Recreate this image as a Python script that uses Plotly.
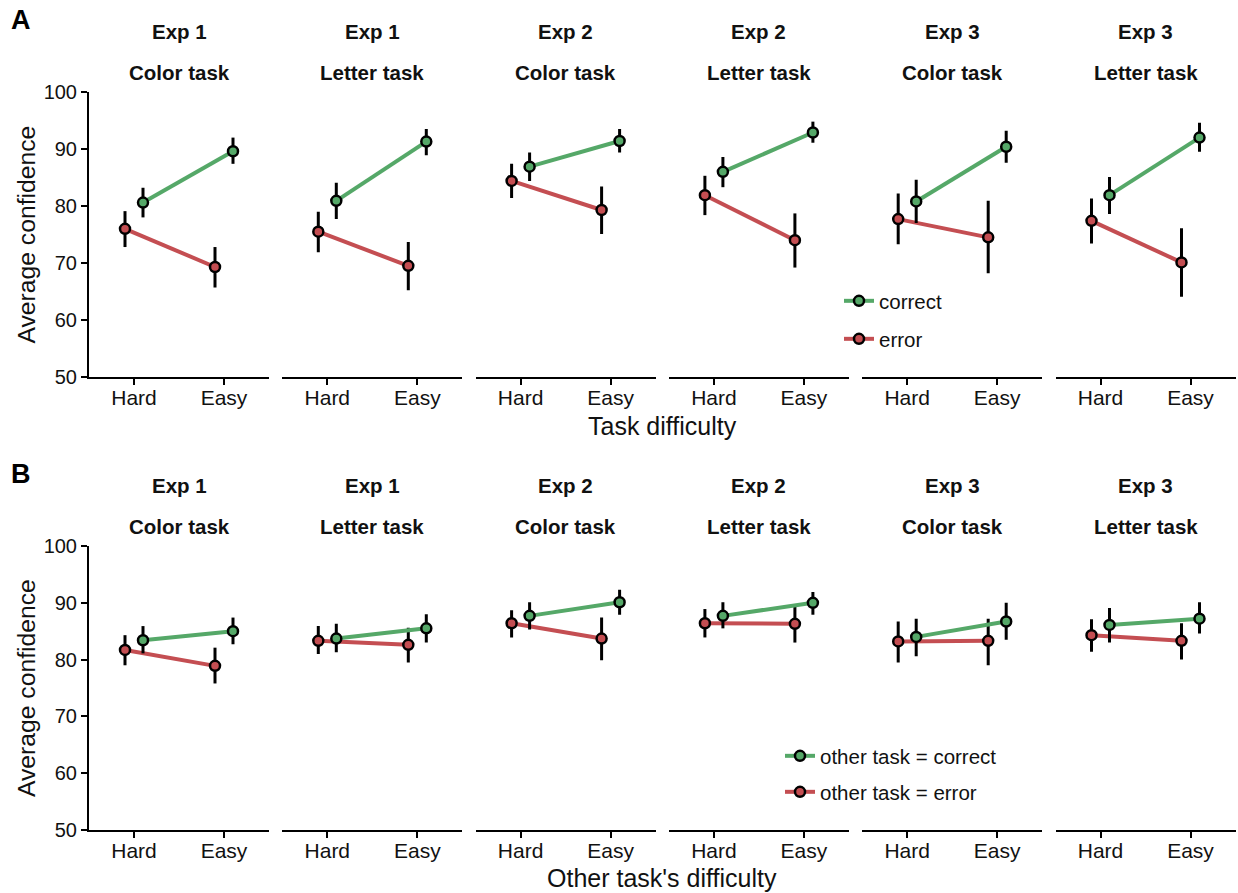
import plotly.graph_objects as go

# ---------------- data ----------------
experiments = ["Exp 1", "Exp 1", "Exp 2", "Exp 2", "Exp 3", "Exp 3"]
tasks = ["Color task", "Letter task", "Color task", "Letter task", "Color task", "Letter task"]
difficulty = ["Hard", "Easy"]
y_ticks = [50, 60, 70, 80, 90, 100]

# Panel A: confidence by own-task difficulty, correct vs error
A_correct_mean = [[80.6, 89.6], [80.9, 91.3], [86.9, 91.4], [86.0, 92.9], [80.8, 90.4], [81.9, 92.0]]
A_correct_lo = [[78.0, 87.4], [77.7, 88.9], [84.4, 89.4], [83.3, 91.1], [77.0, 87.6], [78.6, 89.5]]
A_correct_hi = [[83.2, 92.0], [84.1, 93.5], [89.4, 93.5], [88.6, 94.8], [84.6, 93.2], [85.1, 94.6]]
A_error_mean = [[76.0, 69.3], [75.5, 69.5], [84.4, 79.3], [81.9, 74.0], [77.7, 74.5], [77.4, 70.1]]
A_error_lo = [[72.8, 65.7], [71.9, 65.2], [81.4, 75.1], [78.4, 69.2], [73.3, 68.2], [73.4, 64.1]]
A_error_hi = [[79.1, 72.8], [79.0, 73.7], [87.4, 83.4], [85.3, 78.7], [82.2, 80.9], [81.3, 76.1]]

# Panel B: confidence by other task's difficulty, other task correct vs error
B_correct_mean = [[83.4, 85.0], [83.7, 85.5], [87.7, 90.1], [87.7, 90.0], [84.0, 86.7], [86.1, 87.2]]
B_correct_lo = [[81.1, 82.7], [81.3, 83.0], [85.3, 87.9], [85.5, 87.9], [80.6, 83.5], [83.0, 84.6]]
B_correct_hi = [[85.9, 87.4], [86.3, 88.0], [90.1, 92.3], [90.1, 91.9], [87.2, 90.0], [89.1, 90.1]]
B_error_mean = [[81.7, 78.9], [83.3, 82.6], [86.4, 83.7], [86.4, 86.3], [83.2, 83.3], [84.3, 83.3]]
B_error_lo = [[79.0, 75.8], [81.0, 79.5], [83.9, 79.9], [83.9, 83.0], [79.5, 79.0], [81.4, 80.0]]
B_error_hi = [[84.3, 82.1], [85.9, 85.6], [88.7, 87.4], [88.9, 89.6], [86.7, 87.2], [87.1, 86.4]]

# ---------------- style / layout ----------------
W, H = 1238, 893
GREEN = "#55A868"
RED = "#C44E52"
FONT = "Liberation Sans, Arial, Helvetica, sans-serif"
OFFSET = 0.1  # horizontal dodge of the two conditions

sub_left = [89 + 193.3 * i for i in range(6)]
sub_width = 180
rows_px = {"A": (92, 377), "B": (546, 830)}


def px_x(p):
    return p / W


def px_y(p):
    return 1 - p / H


fig = go.Figure()
layout_axes = {}
annotations = []

panels = [
    ("A", 0, A_correct_mean, A_correct_lo, A_correct_hi, A_error_mean, A_error_lo, A_error_hi,
     "correct", "error", "legend", "legend2"),
    ("B", 6, B_correct_mean, B_correct_lo, B_correct_hi, B_error_mean, B_error_lo, B_error_hi,
     "other task = correct", "other task = error", "legend3", "legend4"),
]

for (pname, base, cm, clo, chi, em, elo, ehi, cname, ename, lg_c, lg_e) in panels:
    top, bot = rows_px[pname]
    for i in range(6):
        n = base + i + 1
        xa = "x" if n == 1 else f"x{n}"
        ya = "y" if n == 1 else f"y{n}"
        xkey = "xaxis" if n == 1 else f"xaxis{n}"
        ykey = "yaxis" if n == 1 else f"yaxis{n}"
        xs = list(range(len(difficulty)))
        # error condition
        fig.add_trace(go.Scatter(
            x=[v - OFFSET for v in xs], y=em[i], mode="lines+markers",
            xaxis=xa, yaxis=ya, name=ename, legend=lg_e, showlegend=(i == 0),
            line=dict(color=RED, width=4),
            marker=dict(size=10, color=RED, line=dict(color="black", width=2.5)),
            error_y=dict(type="data", symmetric=False,
                         array=[h - m for h, m in zip(ehi[i], em[i])],
                         arrayminus=[m - l for m, l in zip(em[i], elo[i])],
                         color="black", thickness=3, width=0),
        ))
        # correct condition
        fig.add_trace(go.Scatter(
            x=[v + OFFSET for v in xs], y=cm[i], mode="lines+markers",
            xaxis=xa, yaxis=ya, name=cname, legend=lg_c, showlegend=(i == 0),
            line=dict(color=GREEN, width=4),
            marker=dict(size=10, color=GREEN, line=dict(color="black", width=2.5)),
            error_y=dict(type="data", symmetric=False,
                         array=[h - m for h, m in zip(chi[i], cm[i])],
                         arrayminus=[m - l for m, l in zip(cm[i], clo[i])],
                         color="black", thickness=3, width=0),
        ))
        left = sub_left[i]
        layout_axes[xkey] = dict(
            domain=[px_x(left), px_x(left + sub_width)], anchor=ya,
            range=[-0.5, 1.5], tickmode="array", tickvals=xs, ticktext=difficulty,
            showline=True, linecolor="black", linewidth=2,
            ticks="outside", ticklen=6, tickwidth=2, tickcolor="black",
            ticklabelstandoff=-5,
            showgrid=False, zeroline=False, fixedrange=True, automargin=False,
            tickfont=dict(size=21, color="#111", family=FONT),
        )
        layout_axes[ykey] = dict(
            domain=[px_y(bot), px_y(top)], anchor=xa,
            range=[50, 100], tickmode="array", tickvals=y_ticks,
            showline=(i == 0), linecolor="black", linewidth=2,
            ticks="outside" if i == 0 else "", ticklen=6, tickwidth=2, tickcolor="black",
            showticklabels=(i == 0), showgrid=False, zeroline=False, fixedrange=True,
            automargin=False,
            tickfont=dict(size=20, color="#111", family=FONT),
        )
        cx = px_x(left + sub_width / 2)
        annotations.append(dict(text=f"<b>{experiments[i]}</b>", x=cx, y=px_y(top - 60),
                                xref="paper", yref="paper", showarrow=False,
                                xanchor="center", yanchor="middle",
                                font=dict(size=20.5, color="#111", family=FONT)))
        annotations.append(dict(text=f"<b>{tasks[i]}</b>", x=cx, y=px_y(top - 20),
                                xref="paper", yref="paper", showarrow=False,
                                xanchor="center", yanchor="middle",
                                font=dict(size=20.5, color="#111", family=FONT)))
    # y-axis title
    annotations.append(dict(text="Average confidence", x=px_x(26), y=px_y((top + bot) / 2),
                            xref="paper", yref="paper", showarrow=False, textangle=-90,
                            xanchor="center", yanchor="middle",
                            font=dict(size=24.7, color="#111", family=FONT)))
    # panel letter
    annotations.append(dict(text=f"<b>{pname}</b>", x=px_x(21), y=px_y(top - 72),
                            xref="paper", yref="paper", showarrow=False,
                            xanchor="center", yanchor="middle",
                            font=dict(size=27, color="black", family=FONT)))

annotations.append(dict(text="Task difficulty", x=px_x(662), y=px_y(426),
                        xref="paper", yref="paper", showarrow=False,
                        xanchor="center", yanchor="middle",
                        font=dict(size=25, color="#111", family=FONT)))
annotations.append(dict(text="Other task's difficulty", x=px_x(662), y=px_y(878),
                        xref="paper", yref="paper", showarrow=False,
                        xanchor="center", yanchor="middle",
                        font=dict(size=25, color="#111", family=FONT)))


def legend_at(xp, yp):
    return dict(x=px_x(xp), y=px_y(yp), xref="paper", yref="paper",
                xanchor="left", yanchor="middle", bgcolor="rgba(0,0,0,0)",
                borderwidth=0, itemwidth=30,
                font=dict(size=20.5, color="#111", family=FONT))


fig.update_layout(
    width=W, height=H,
    margin=dict(l=0, r=0, t=0, b=0, pad=0, autoexpand=False),
    paper_bgcolor="white", plot_bgcolor="white",
    font=dict(family=FONT, color="#111"),
    annotations=annotations,
    legend=legend_at(839, 301),
    legend2=legend_at(839, 339),
    legend3=legend_at(780, 756),
    legend4=legend_at(780, 792),
    **layout_axes,
)

fig.write_html(
    "out.html",
    config={"displayModeBar": False},
    post_script=(
        "document.documentElement.style.overflow='hidden';"
        "document.body.style.margin='0';document.body.style.padding='0';"
        "document.body.style.overflow='hidden';"
        "var d=document.getElementById('{plot_id}');"
        "d.style.position='fixed';d.style.top='0px';d.style.left='0px';"
    ),
)
